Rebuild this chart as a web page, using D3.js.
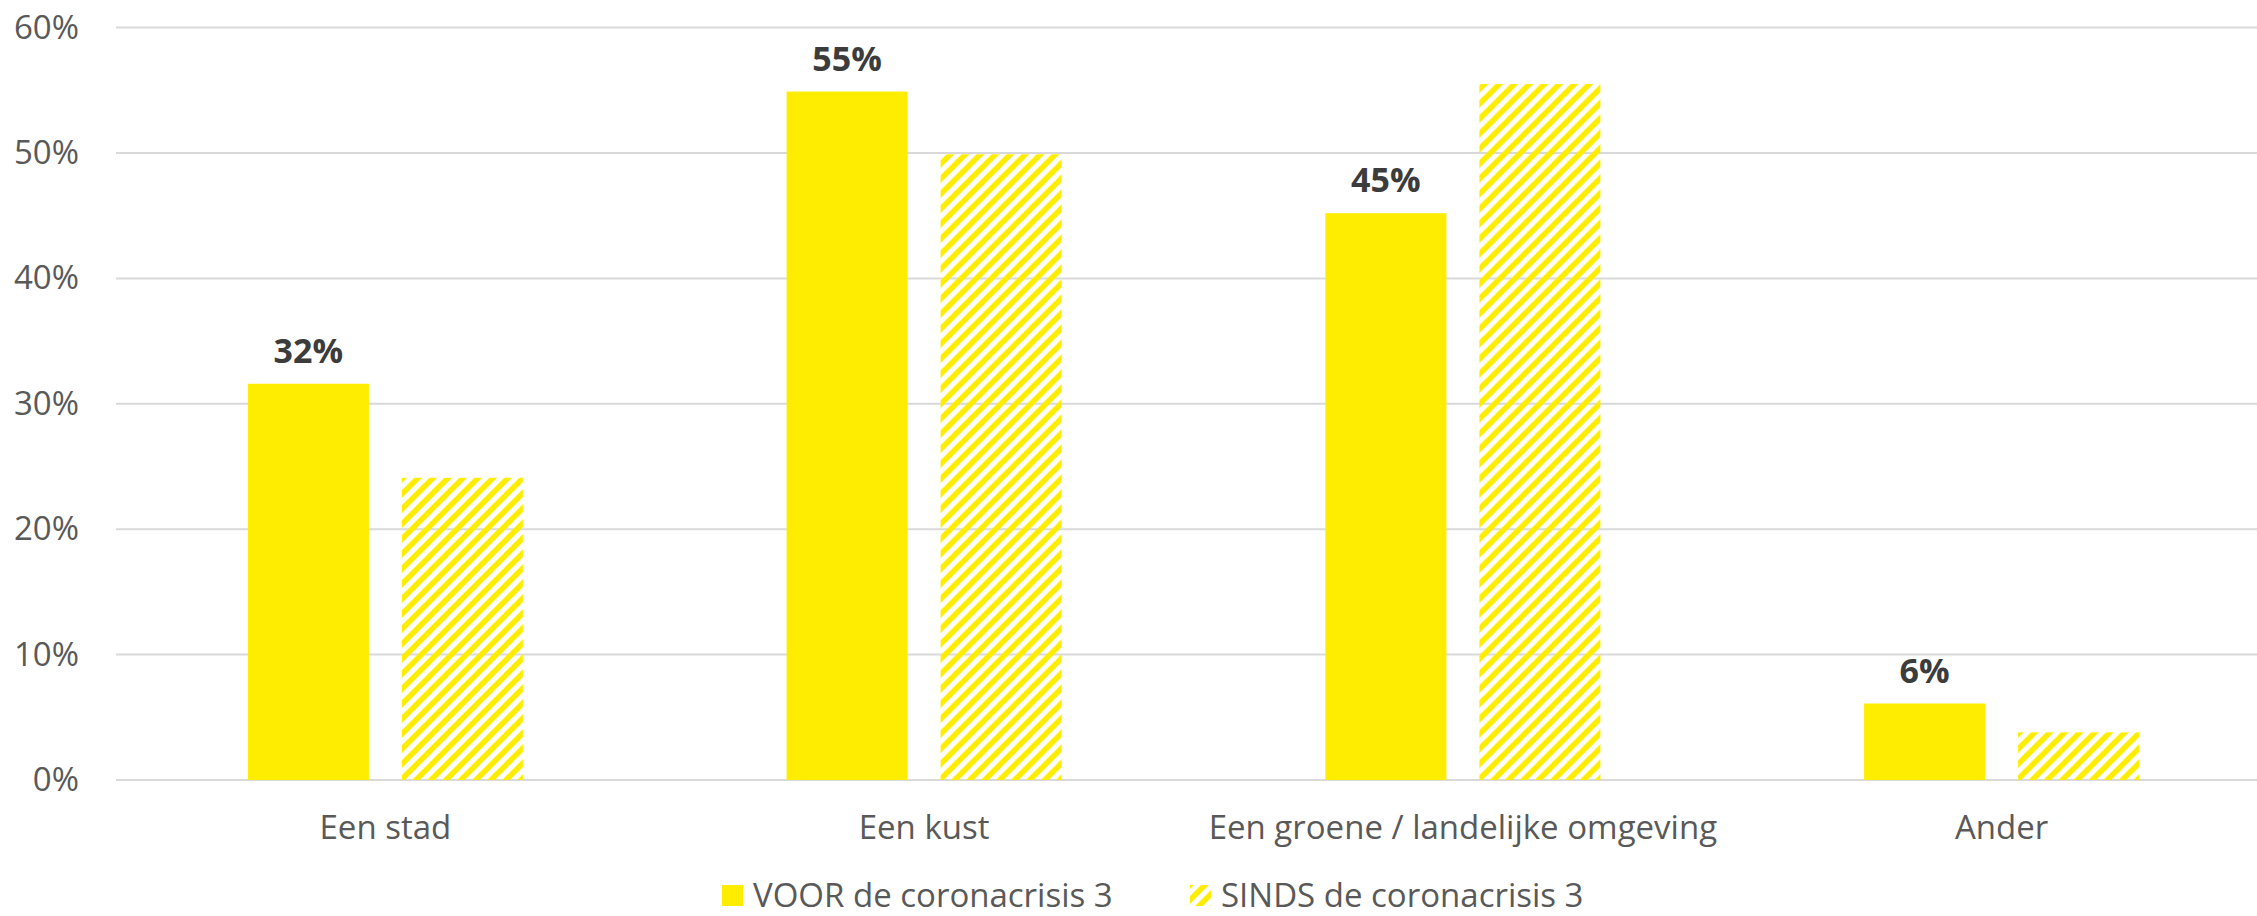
<!DOCTYPE html>
<html>
<head>
<meta charset="utf-8">
<script src="https://cdn.jsdelivr.net/npm/d3@7"></script>
<style>
  body { margin: 0; background: #fff; }
  svg { display: block; font-family: "Open Sans", sans-serif; }
</style>
</head>
<body>
<svg id="chart" width="2257" height="916"></svg>
<script>
// chart data
const categories = ["Een stad", "Een kust", "Een groene / landelijke omgeving", "Ander"];
const seriesNames = ["VOOR de coronacrisis 3", "SINDS de coronacrisis 3"];
const voorValues = [31.6, 54.9, 45.2, 6.1];
const sindsValues = [24.1, 49.9, 55.5, 3.8];
const yTicks = [0, 10, 20, 30, 40, 50, 60];

const width = 2257, height = 916;
const yellow = "#FFED00";
let margin = {top: 27.6, right: -14, bottom: 136, left: 116};

let svg = d3.select("#chart");

// hatch pattern for the SINDS series
let defs = svg.append("defs");
let pat = defs.append("pattern")
    .attr("id", "hatch")
    .attr("patternUnits", "userSpaceOnUse")
    .attr("width", 15)
    .attr("height", 15);
pat.append("path")
    .attr("d", "M-4,4 L4,-4 M0,15 L15,0 M11,19 L19,11")
    .attr("stroke", yellow)
    .attr("stroke-width", 5.5);

const y = d3.scaleLinear()
    .domain([0, 60])
    .range([height - margin.bottom, margin.top]);

const x = d3.scaleBand()
    .domain(categories)
    .range([margin.left, width - margin.right])
    .padding(0);

const xSub = d3.scaleBand()
    .domain([0, 1])
    .range([0, x.bandwidth()])
    .paddingInner(0.214)
    .paddingOuter(0.856);

// gridlines
svg.append("g")
    .selectAll("line")
    .data(yTicks)
    .join("line")
    .attr("x1", margin.left)
    .attr("x2", width)
    .attr("y1", d => y(d))
    .attr("y2", d => y(d))
    .attr("stroke", "#d9d9d9")
    .attr("stroke-width", 2);

// y axis labels
const yAxis = svg.append("g")
    .attr("transform", `translate(${margin.left}, 0)`)
    .call(d3.axisLeft(y).tickValues(yTicks).tickFormat(d => d + "%").tickSize(0).tickPadding(37));
yAxis.select(".domain").remove();
yAxis.selectAll("text")
    .style("font-family", "'Open Sans', sans-serif")
    .style("font-size", "33px")
    .style("fill", "#595959");

// bars
const rows = categories.map((c, i) => ({cat: c, vals: [voorValues[i], sindsValues[i]]}));

const groups = svg.append("g")
    .selectAll("g")
    .data(rows)
    .join("g")
    .attr("transform", d => `translate(${x(d.cat)}, 0)`);

groups.selectAll("rect")
    .data(d => d.vals.map((v, k) => ({k: k, v: v})))
    .join("rect")
    .attr("x", d => xSub(d.k))
    .attr("width", xSub.bandwidth())
    .attr("y", d => y(d.v))
    .attr("height", d => y(0) - y(d.v))
    .attr("fill", d => d.k === 0 ? yellow : "url(#hatch)");

// data labels only on the VOOR series
groups.append("text")
    .attr("x", xSub(0) + xSub.bandwidth() / 2)
    .attr("y", d => y(d.vals[0]) - 21)
    .attr("text-anchor", "middle")
    .style("font-size", "34px")
    .style("font-weight", "bold")
    .style("fill", "#3c3c3c")
    .text(d => Math.round(d.vals[0]) + "%");

// category labels
svg.append("g")
    .selectAll("text")
    .data(categories)
    .join("text")
    .attr("x", d => x(d) + x.bandwidth() / 2)
    .attr("y", 839)
    .attr("text-anchor", "middle")
    .style("font-size", "33px")
    .style("fill", "#595959")
    .text(d => d);

// legend
const legendX = [722, 1190];
const legend = svg.append("g")
    .selectAll("g")
    .data(seriesNames)
    .join("g")
    .attr("transform", (d, i) => `translate(${legendX[i]}, 885)`);

legend.append("rect")
    .attr("width", 21)
    .attr("height", 21)
    .attr("fill", (d, i) => i === 0 ? yellow : "url(#hatch)");

legend.append("text")
    .attr("x", 31)
    .attr("y", 21.5)
    .style("font-size", "33px")
    .style("fill", "#595959")
    .text(d => d);
</script>
</body>
</html>
